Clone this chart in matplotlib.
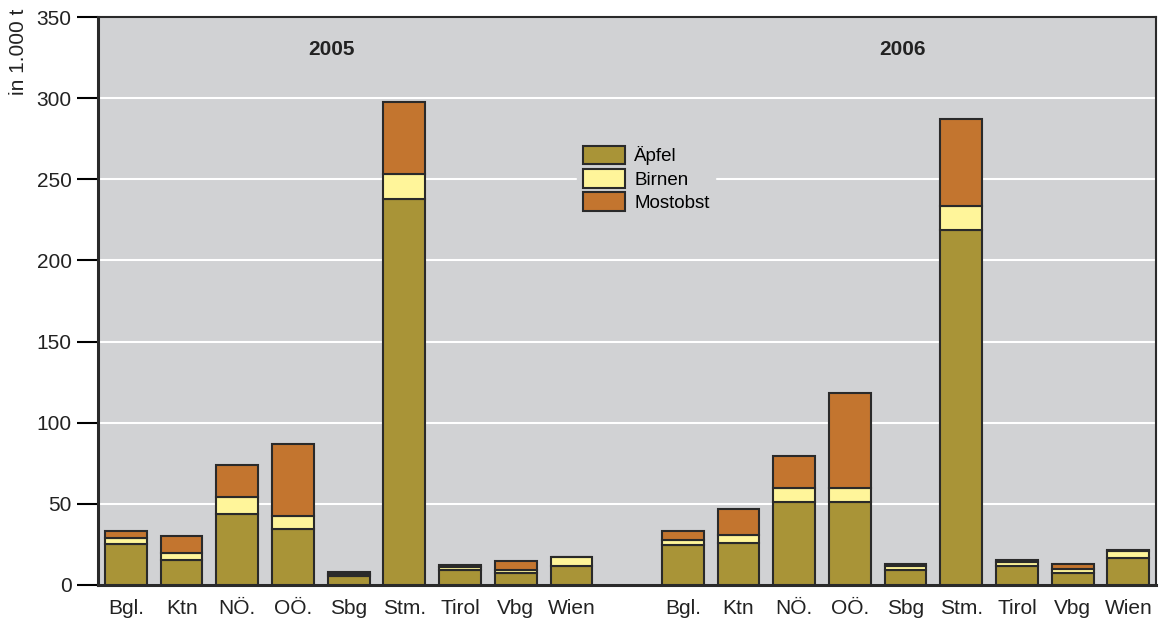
import numpy as np
import matplotlib
matplotlib.use("Agg")
import matplotlib.pyplot as plt

plt.rcParams['font.family'] = ['Liberation Sans', 'DejaVu Sans']

# data (in 1.000 t)
laender = ["Bgl.", "Ktn", "NÖ.", "OÖ.", "Sbg", "Stm.", "Tirol", "Vbg", "Wien"]
years = ["2005", "2006"]

aepfel_2005 = [25.0, 15.5, 44.0, 34.5, 5.5, 238.0, 9.5, 7.5, 12.0]
birnen_2005 = [4.0, 4.0, 10.0, 8.0, 1.0, 15.5, 1.5, 2.0, 5.0]
most_2005 = [4.3, 10.5, 20.0, 44.5, 1.5, 44.0, 1.2, 5.5, 0.3]

aepfel_2006 = [24.5, 25.7, 51.0, 51.0, 9.5, 218.5, 11.7, 7.6, 16.7]
birnen_2006 = [3.5, 5.2, 9.0, 9.0, 2.0, 15.0, 2.7, 2.0, 4.5]
most_2006 = [5.3, 16.0, 19.7, 58.5, 1.7, 53.5, 1.2, 3.5, 0.3]

c_aepfel = "#a99437"
c_birnen = "#fff59a"
c_most = "#c3752f"
bg = "#d1d2d4"
edge = "#2a2a2a"

fig = plt.figure(figsize=(11.59, 6.26), dpi=100)
ax = fig.add_axes([0.0846, 0.0655, 0.913, 0.9073])
ax.set_facecolor(bg)

x05 = np.arange(len(laender))
x06 = x05 + len(laender) + 1
w = 0.75

for xs, a, b, m in [(x05, aepfel_2005, birnen_2005, most_2005),
                    (x06, aepfel_2006, birnen_2006, most_2006)]:
    a = np.array(a)
    b = np.array(b)
    m = np.array(m)
    ax.bar(xs, a, w, color=c_aepfel, edgecolor=edge, linewidth=1.5, zorder=3, label="Äpfel")
    ax.bar(xs, b, w, bottom=a, color=c_birnen, edgecolor=edge, linewidth=1.5, zorder=3, label="Birnen")
    ax.bar(xs, m, w, bottom=a + b, color=c_most, edgecolor=edge, linewidth=1.5, zorder=3, label="Mostobst")

ax.set_xlim(-0.5, x06[-1] + 0.5)
ax.set_ylim(0, 350)
ax.set_yticks(np.arange(0, 351, 50))
ax.yaxis.grid(True, color="white", linewidth=1.5, zorder=0)
ax.set_axisbelow(True)

ax.set_xticks(np.concatenate([x05, x06]))
ax.set_xticklabels(laender + laender, fontsize=15, color="#222222")
ax.tick_params(axis="x", length=0, pad=10)
ax.tick_params(axis="y", length=15, width=1.5, labelsize=15, labelcolor="#222222", pad=4)

for side in ["left", "bottom"]:
    ax.spines[side].set_linewidth(2.2)
    ax.spines[side].set_color(edge)
for side in ["top", "right"]:
    ax.spines[side].set_linewidth(1.5)
    ax.spines[side].set_color(edge)

ax.text(3.7, 330, years[0], ha="center", va="center", fontsize=15, fontweight="bold", color="#222222")
ax.text(13.95, 330, years[1], ha="center", va="center", fontsize=15, fontweight="bold", color="#222222")

fig.text(0.016, 0.987, "in 1.000 t", rotation=90, ha="center", va="top", fontsize=15, color="#222222")

handles, labels = ax.get_legend_handles_labels()
leg = ax.legend(handles[:3], labels[:3], loc="upper left", bbox_to_anchor=(0.444, 0.80),
                fontsize=13.5, frameon=True, facecolor=bg, edgecolor=bg, framealpha=1,
                handlelength=2.25, handleheight=1.15, labelspacing=0.2, handletextpad=0.5,
                borderpad=0.3, fancybox=False)
leg.set_zorder(5)

fig.savefig("out.png", dpi=100)
